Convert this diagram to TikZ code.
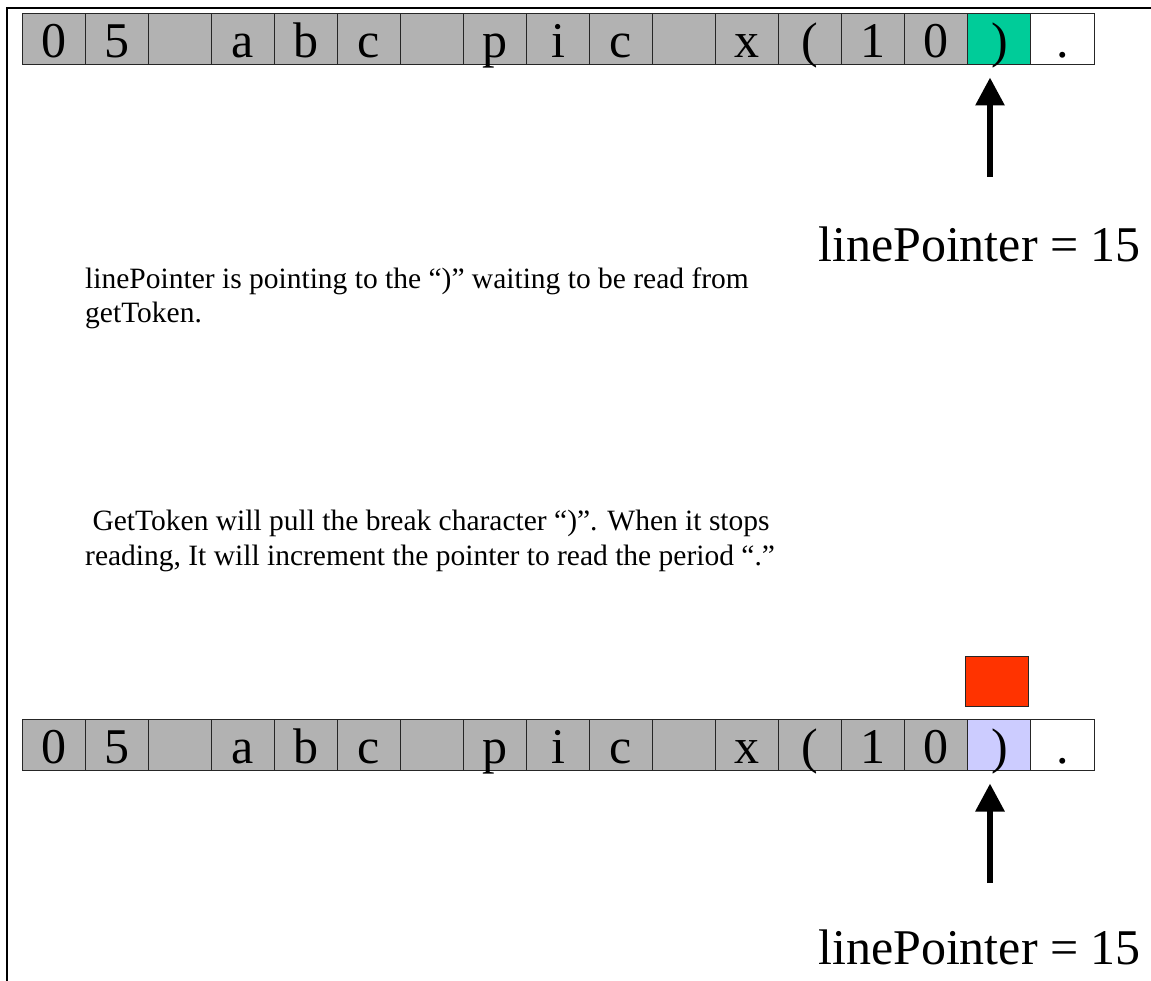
\documentclass[tikz,border=0pt]{standalone}
\usepackage{fontspec}
\setmainfont{Liberation Serif}
\usepackage{tikz}
\usetikzlibrary{arrows.meta,positioning,calc}

\definecolor{cellgray}{HTML}{B2B2B2}
\definecolor{hitgreen}{HTML}{00CC99}
\definecolor{readblue}{HTML}{CCCCFF}
\definecolor{flagred}{HTML}{FF3300}

\begin{document}
\begin{tikzpicture}[x=1pt,y=-1pt,
			cel/.style={rectangle,draw=black!85,line width=1pt,inner sep=0pt,minimum width=63.06pt,minimum height=51pt,
				text height=44pt,text depth=7pt,font=\fontsize{50}{50}\selectfont},
			ptr/.style={line width=6pt,-{Triangle[width=28pt,length=28pt]}},
			big/.style={font=\fontsize{50}{50}\selectfont,inner sep=0pt,anchor=base west},
			txt/.style={font=\fontsize{29.5}{34.5}\selectfont,inner sep=0pt,anchor=base west,align=left}]
		\useasboundingbox (0,0) rectangle (1151,981);
		% frame
		\draw [line width=2pt] (1151,8.5) -- (7,8.5) -- (7,981);
		% line buffer, before and after the read
		\foreach \c [count=\i] in {0,5,{},a,b,c,{},p,i,c,{},x,{(},1,0} {
			\node (t\i) [cel, fill=cellgray] at ({22+63.06*(\i-0.5)},39) {\c};
			\node (b\i) [cel, fill=cellgray] at ({22+63.06*(\i-0.5)},744.5) {\c};
		}
		\path 	({22+63.06*15.5},39) 	node 	(t16) [cel, fill=hitgreen] {)}
		        ({22+63.06*16.5},39) 	node 	(t17) [cel, fill=white] {.}
		        ({22+63.06*15.5},744.5) node 	(b16) [cel, fill=readblue] {)}
		        ({22+63.06*16.5},744.5) node 	(b17) [cel, fill=white] {.}
		        (997,681.5) 	node 	(flag) [rectangle,draw=black!85,line width=1pt,fill=flagred,minimum width=63.5pt,minimum height=50.7pt] {};
		% pointer labels and arrows
		\node (lp1) [big] at (818,262) {linePointer = 15};
		\node (lp2) [big] at (818,964) {linePointer = 15};
		\coordinate (tail1) at (990,177);
		\coordinate (tail2) at (990,883);
		\draw [ptr, shorten >=12.5pt] (tail1) -- (tail1 |- t16.south);
		\draw [ptr, shorten >=13pt] (tail2) -- (tail2 |- b16.south);
		% notes (base is the last line)
		\node (note1) [txt] at (85,323) {linePointer is pointing to the “)” waiting to be read from\\getToken.};
		\node (note2) [txt] at (85,565) {\ GetToken will pull the break character “)”. When it stops\\reading, It will increment the pointer to read the period “.”};
	\end{tikzpicture}
\end{document}
